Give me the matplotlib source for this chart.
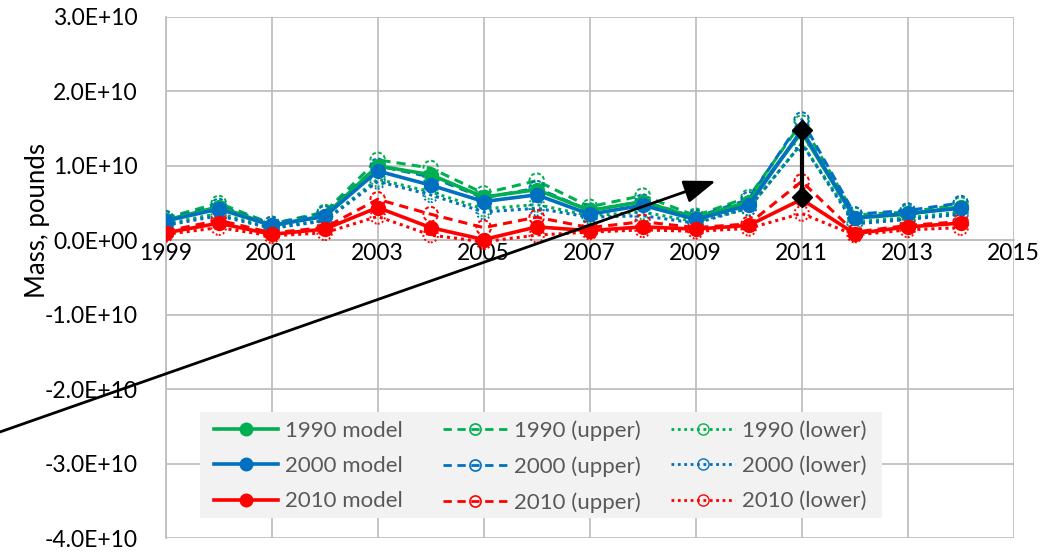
import matplotlib
matplotlib.use("Agg")
import matplotlib.pyplot as plt
from matplotlib.lines import Line2D
from matplotlib.patches import Rectangle
import numpy as np

plt.rcParams['font.family'] = ['Lato', 'DejaVu Sans']

years = list(range(1999, 2015))

# values in units of 1E10 pounds
m1990 = [0.27, 0.45, 0.20, 0.33, 1.00, 0.88, 0.58, 0.68, 0.40, 0.52, 0.30, 0.52, 1.45, 0.30, 0.35, 0.45]
u1990 = [0.30, 0.50, 0.22, 0.38, 1.08, 0.97, 0.63, 0.80, 0.45, 0.60, 0.33, 0.58, 1.58, 0.34, 0.38, 0.48]
l1990 = [0.22, 0.36, 0.17, 0.27, 0.82, 0.65, 0.42, 0.48, 0.33, 0.38, 0.25, 0.43, 1.30, 0.25, 0.30, 0.38]
m2000 = [0.26, 0.42, 0.20, 0.32, 0.93, 0.74, 0.52, 0.61, 0.35, 0.47, 0.28, 0.47, 1.48, 0.30, 0.36, 0.43]
u2000 = [0.29, 0.46, 0.22, 0.36, 1.00, 0.85, 0.57, 0.70, 0.40, 0.52, 0.31, 0.55, 1.62, 0.35, 0.40, 0.50]
l2000 = [0.20, 0.33, 0.16, 0.26, 0.79, 0.61, 0.38, 0.43, 0.31, 0.33, 0.23, 0.43, 1.30, 0.22, 0.28, 0.35]
m2010 = [0.10, 0.23, 0.08, 0.15, 0.44, 0.17, 0.01, 0.18, 0.13, 0.18, 0.15, 0.20, 0.55, 0.09, 0.18, 0.23]
u2010 = [0.12, 0.27, 0.10, 0.17, 0.55, 0.35, 0.17, 0.31, 0.17, 0.25, 0.17, 0.22, 0.79, 0.11, 0.20, 0.25]
l2010 = [0.08, 0.17, 0.06, 0.10, 0.32, 0.07, -0.02, 0.07, 0.11, 0.14, 0.12, 0.16, 0.36, 0.07, 0.14, 0.17]

ytick_vals = [3.0, 2.0, 1.0, 0.0, -1.0, -2.0, -3.0, -4.0]
ytick_labels = ["3.0E+10", "2.0E+10", "1.0E+10", "0.0E+00", "-1.0E+10", "-2.0E+10", "-3.0E+10", "-4.0E+10"]
xtick_vals = [1999, 2001, 2003, 2005, 2007, 2009, 2011, 2013, 2015]

# range bar at 2011 and arrow (data coords, 1E10 units)
bar_x = 2011
bar_y = [0.585, 1.48]
arrow_start = (1995.87, -2.573)
arrow_end = (2009.38, 0.796)

GREEN = '#00B050'
BLUE = '#0070C0'
RED = '#FF0000'
E10 = 1e10
W, H = 1057, 552

fig = plt.figure(figsize=(W / 100, H / 100), dpi=100)
ax = fig.add_axes([0.1568, 0.0248, 0.959 - 0.1568, 0.9696 - 0.0248])

ax.set_xlim(1999, 2015)
ax.set_ylim(-4.0 * E10, 3.0 * E10)
ax.set_xticks(xtick_vals)
ax.set_yticks([v * E10 for v in ytick_vals])
ax.set_yticklabels(ytick_labels)
ax.grid(True, color='#BFBFBF', linewidth=1.3)
ax.set_axisbelow(True)
for s in ['top', 'right']:
    ax.spines[s].set_visible(False)
ax.spines['left'].set_color('#BFBFBF')
ax.spines['left'].set_linewidth(1.3)
ax.spines['bottom'].set_position(('data', 0))
ax.spines['bottom'].set_color('#BFBFBF')
ax.spines['bottom'].set_linewidth(1.3)
ax.tick_params(axis='both', length=0, labelsize=16.5, labelcolor='black')
ax.tick_params(axis='y', pad=20)
ax.tick_params(axis='x', pad=2)
ax.set_ylabel('Mass, pounds', fontsize=18.5)
ax.yaxis.set_label_coords(-0.137, 0.61)

x = np.array(years)
series = [
    (m1990, GREEN, 'model', '1990 model'),
    (u1990, GREEN, 'upper', '1990 (upper)'),
    (l1990, GREEN, 'lower', '1990 (lower)'),
    (m2000, BLUE, 'model', '2000 model'),
    (u2000, BLUE, 'upper', '2000 (upper)'),
    (l2000, BLUE, 'lower', '2000 (lower)'),
    (m2010, RED, 'model', '2010 model'),
    (u2010, RED, 'upper', '2010 (upper)'),
    (l2010, RED, 'lower', '2010 (lower)'),
]

handles = {}
for vals, c, kind, lab in series:
    y = np.array(vals) * E10
    if kind == 'model':
        ax.plot(x, y, '-', color=c, lw=2.6, marker='o', ms=10, mfc=c, mec=c, zorder=4)
        handles[lab] = Line2D([], [], color=c, lw=2.6, marker='o', ms=9, mfc=c, mec=c)
    elif kind == 'upper':
        ax.plot(x, y, color=c, lw=2.2, ls=(0, (3, 2)), zorder=3)
        ax.scatter(x, y, s=110, facecolors='none', edgecolors=c, linewidths=1.4,
                   linestyles=(0, (2, 1.2)), zorder=3)
        handles[lab] = Line2D([], [], color=c, lw=2.0, ls=(0, (3, 2)), marker='o', ms=8,
                              mfc='none', mec=c, mew=1.2)
    else:
        ax.plot(x, y, color=c, lw=2.2, ls=(0, (1, 1.3)), zorder=3)
        ax.scatter(x, y, s=110, facecolors='none', edgecolors=c, linewidths=1.4,
                   linestyles=(0, (1, 1.2)), zorder=3)
        handles[lab] = Line2D([], [], color=c, lw=2.0, ls=(0, (1, 1.3)), marker='o', ms=8,
                              mfc='none', mec=c, mew=1.0)

# range bar at 2011
ax.plot([bar_x, bar_x], [v * E10 for v in bar_y], color='black', lw=3,
        marker='D', ms=10, zorder=6)

# long arrow
ax.annotate('', xy=(arrow_end[0], arrow_end[1] * E10),
            xytext=(arrow_start[0], arrow_start[1] * E10),
            textcoords='data', xycoords='data',
            arrowprops=dict(arrowstyle='-|>,head_length=1.3,head_width=0.47', color='black',
                            lw=2, shrinkA=0, shrinkB=0, mutation_scale=15),
            annotation_clip=False, zorder=7)

# legend background
fig.add_artist(Rectangle((200 / W, 1 - 518 / H), 682 / W, 106 / H,
                         transform=fig.transFigure, facecolor='#F2F2F2',
                         edgecolor='none', zorder=2))

columns = [
    ['1990 model', '2000 model', '2010 model'],
    ['1990 (upper)', '2000 (upper)', '2010 (upper)'],
    ['1990 (lower)', '2000 (lower)', '2010 (lower)'],
]
col_x = [205.0, 434.0, 662.0]
for labs, cx in zip(columns, col_x):
    leg = fig.legend([handles[k] for k in labs], labs, ncol=1,
                     loc='upper left', bbox_to_anchor=(cx / W, 1 - 412 / H),
                     borderaxespad=0, frameon=False,
                     fontsize=16, handlelength=2.9, handletextpad=0.3,
                     labelspacing=0.69, borderpad=0.39)
    leg.set_zorder(5)
    for t in leg.get_texts():
        t.set_color('#595959')

fig.savefig('out.png', dpi=100)
